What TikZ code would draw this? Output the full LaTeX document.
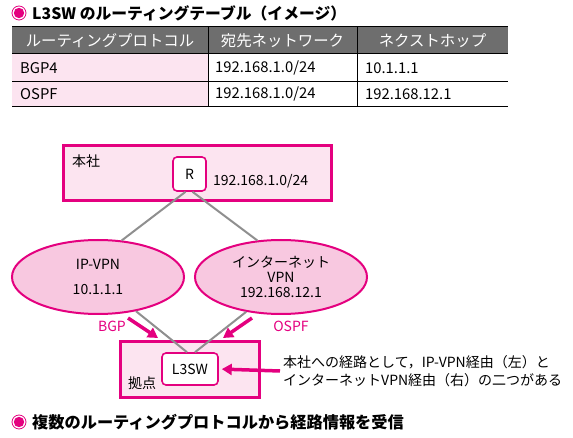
\documentclass[tikz,border=0pt]{standalone}
\usepackage{fontspec}
\setmainfont{Noto Sans CJK JP}
\usetikzlibrary{shapes.geometric,arrows.meta}

\definecolor{cMag}{HTML}{E4007F}
\definecolor{cPink}{HTML}{FCE4F0}
\definecolor{cOval}{HTML}{F8C8E0}
\definecolor{cHead}{HTML}{6E6E6E}
\definecolor{cLine}{HTML}{8F8F8F}
\providecommand{\magbullet}[2]{%
  \draw[cMag, line width=0.8pt, fill=white] (#1,#2) circle (7);
  \fill[cMag] (#1,#2) circle (5.2);
}

\begin{document}
\begin{tikzpicture}[x=1pt, y=-1pt, font=\fontsize{14}{16}\selectfont,
  site/.style={draw=cMag, fill=cPink, line width=3pt, inner sep=0pt},
  dev/.style={draw=cMag, fill=white, line width=1.6pt, rounded corners=4pt,
    inner sep=0pt, minimum height=33pt},
  vpn/.style={ellipse, draw=cMag, fill=cOval, line width=2pt, inner sep=0pt,
    minimum width=172pt, minimum height=74pt, align=center},
  link/.style={draw=cLine, line width=2pt},
  learn/.style={cMag, line width=3.5pt, -{Triangle[length=10pt, width=11pt]}},
  cell/.style={anchor=west, inner sep=0pt, font=\fontsize{14.8}{16}\selectfont},
  headcell/.style={text=white, inner sep=0pt, font=\fontsize{15.4}{17}\selectfont}]

  \useasboundingbox (0,0) rectangle (573,438);

  % --------------------------------------------------------------------------
  % Title + routing table
  % --------------------------------------------------------------------------
  \magbullet{19}{13}
  \node[anchor=west, inner sep=0pt, font=\fontsize{15.8}{18}\selectfont\bfseries]
    (ttl) at (32,13) {L3SW のルーティングテーブル（イメージ）};

  \fill[cHead] (12,27) rectangle (508,54);
  \fill[cPink] (12,54) rectangle (208,107);
  \draw[black, line width=1pt] (12,27) -- (508,27);
  \draw[black, line width=1pt] (12,54) -- (508,54);
  \draw[black, line width=0.8pt] (12,81) -- (508,81);
  \draw[black, line width=1pt] (12,107) -- (508,107);
  \draw[black, line width=1pt] (208,27) -- (208,107);
  \draw[black, line width=1pt] (357,27) -- (357,107);

  \node[headcell] (h1) at (110,41) {ルーティングプロトコル};
  \node[headcell] (h2) at (282.5,41) {宛先ネットワーク};
  \node[headcell] (h3) at (432.5,41) {ネクストホップ};

  \node[cell] (p1) at (20,68) {BGP4};
  \node[cell] (d1) at (215,68) {192.168.1.0/24};
  \node[cell] (n1) at (365,68) {10.1.1.1};
  \node[cell] (p2) at (20,94) {OSPF};
  \node[cell] (d2) at (215,94) {192.168.1.0/24};
  \node[cell] (n2) at (365,94) {192.168.12.1};

  % --------------------------------------------------------------------------
  % Head office
  % --------------------------------------------------------------------------
  \node[site, minimum width=268pt, minimum height=55pt] (hq) at (197,173.5) {};
  \node[anchor=west, inner sep=0pt] (hqlbl) at (72,161) {本社};
  \node[dev, minimum width=33pt, minimum height=34pt] (R) at (189.5,174) {R};
  \node[anchor=west, inner sep=0pt] (hqnet) at (213,181) {192.168.1.0/24};

  % --------------------------------------------------------------------------
  % Two VPNs
  % --------------------------------------------------------------------------
  \node[vpn] (ipvpn) at (98,277) {IP-VPN\\[9pt]10.1.1.1};
  \node[vpn] (inet) at (281,277)
    {インターネット\\[-1pt]VPN\\[-1pt]192.168.12.1};

  % --------------------------------------------------------------------------
  % Branch
  % --------------------------------------------------------------------------
  \node[site, minimum width=139pt, minimum height=55pt] (br) at (189.5,369.5) {};
  \node[anchor=west, inner sep=0pt] (brlbl) at (128,383) {拠点};
  \node[dev, minimum width=56pt, minimum height=32pt] (l3sw) at (190,369) {L3SW};

  \draw[link] ([xshift=-4pt]R.south) -- (ipvpn.57);
  \draw[link] ([xshift=3pt]R.south) -- (inet.123);
  \draw[link] (ipvpn.-42) -- ([xshift=-3pt]l3sw.north);
  \draw[link] (inet.-135) -- ([xshift=5pt]l3sw.north);

  % learned routes
  \coordinate (bgpfrom) at (128,318);
  \coordinate (bgpto) at (158,338);
  \coordinate (ospffrom) at (252,318);
  \coordinate (ospfto) at (223,338);
  \draw[learn] (bgpfrom) -- (bgpto);
  \draw[learn] (ospffrom) -- (ospfto);
  \node[text=cMag, inner sep=0pt] (bgp) at (112,326) {BGP};
  \node[text=cMag, inner sep=0pt] (ospf) at (291,326) {OSPF};

  \node[anchor=west, align=left, inner sep=3pt, font=\fontsize{14}{18}\selectfont]
    (note) at (280,371)
    {本社への経路として，IP-VPN経由（左）と\\インターネットVPN経由（右）の二つがある};
  \draw[learn, shorten >=3pt] (note.west) -- (l3sw.east);

  % --------------------------------------------------------------------------
  % Caption
  % --------------------------------------------------------------------------
  \magbullet{19}{422}
  \node[anchor=west, inner sep=0pt, font=\fontsize{16.2}{18}\selectfont\bfseries]
    (cap) at (32,422) {複数のルーティングプロトコルから経路情報を受信};

\end{tikzpicture}
\end{document}
